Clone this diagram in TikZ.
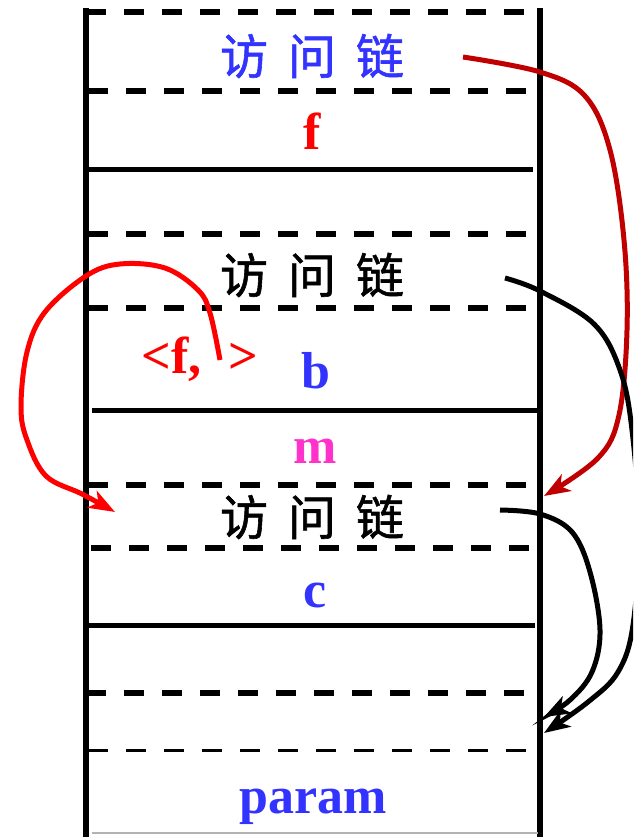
\documentclass[tikz,border=0pt]{standalone}
\usepackage{fontspec}
\setmainfont{Liberation Serif}
\newfontfamily\cjk[FakeBold=1.2]{Noto Sans CJK SC}
\usetikzlibrary{arrows.meta}
\definecolor{lblue}{HTML}{3333FF}
\definecolor{lmag}{HTML}{FF33CC}
\definecolor{dred}{HTML}{C00000}
\definecolor{bred}{HTML}{FF0000}
\newcommand{\fwl}{访\hspace{20pt}问\hspace{20pt}链}
\begin{document}
\begin{tikzpicture}[x=1pt,y=-1pt,
  wall/.style={line width=5.5pt},
  solidrow/.style={line width=5pt},
  dashrow/.style={line width=5.5pt, dash pattern=on 20pt off 18pt},
  thindash/.style={line width=3pt, dash pattern=on 20pt off 18pt},
  lbl/.style={font=\fontsize{52}{52}\selectfont\bfseries, anchor=base, inner sep=0pt},
  cjklbl/.style={font=\fontsize{48}{48}\selectfont\cjk, inner sep=0pt},
  link/.style={line width=5pt, -{Stealth[length=26pt,width=19pt,inset=7pt]}}]
\useasboundingbox (0,0) rectangle (633,837);
\begin{scope}
\clip (0,0) rectangle (633,837);
% walls
\draw[wall] (86,8) -- (86,837);
\draw[wall] (540,8) -- (540,837);
% rows
\draw[dashrow] (86,12) -- (540,12);
\draw[dashrow] (88,91) -- (530,91);
\draw[solidrow] (86,170) -- (533,170);
\draw[dashrow] (88,234) -- (530,234);
\draw[dashrow] (88,308) -- (530,308);
\draw[solidrow] (92,410) -- (540,410);
\draw[dashrow] (88,485) -- (540,485);
\draw[dashrow] (91,548) -- (532,548);
\draw[solidrow] (88,625) -- (535,625);
\draw[dashrow] (86,693) -- (528,693);
\draw[thindash] (88,750) -- (530,750);
\draw[line width=1.5pt, gray!60] (92,833) -- (538,833);
% labels
\node[cjklbl, text=lblue] (al1) at (312,56) {\fwl};
\node[lbl, text=bred] (f) at (312,150) {f};
\node[cjklbl] (al2) at (312,275) {\fwl};
\node[lbl, text=bred] (fref) at (200,373) {<f,\hspace{27pt}>};
\node[lbl, text=lblue] (b) at (316,388) {b};
\node[lbl, text=lmag] (m) at (315,463) {m};
\node[cjklbl] (al3) at (312,517) {\fwl};
\node[lbl, text=lblue] (c) at (315,607) {c};
\node[lbl, text=lblue] (param) at (313,813) {param};
% connector end points
\coordinate (r1s) at (463,57);
\coordinate (r1e) at (544,496);
\coordinate (k1s) at (505,278);
\coordinate (k1e) at (544,733);
\coordinate (k2s) at (500,510);
\coordinate (k2e) at (544,717);
\coordinate (r2s) at (220,360);
\coordinate (r2e) at (115,512);
% connectors
\draw[link, dred] plot[smooth, tension=0.6] coordinates {(r1s) (540,72) (585,96) (610,150) (624,240) (627,330) (619,415) (598,458) (r1e)};
\draw[link] plot[smooth, tension=0.6] coordinates {(k1s) (540,291) (594,324) (620,370) (632,430) (639,530) (633,625) (618,672) (588,702) (k1e)};
\draw[link] plot[smooth, tension=0.6] coordinates {(k2s) (540,514) (572,532) (590,572) (600,630) (592,672) (570,700) (k2e)};
\draw[link, bred] plot[smooth, tension=0.6] coordinates {(r2s) (210,313) (198,290) (165,268) (120,264) (86,276) (45,312) (27,352) (21,407) (27,440) (46,476) (82,494) (r2e)};
\end{scope}
\end{tikzpicture}
\end{document}
